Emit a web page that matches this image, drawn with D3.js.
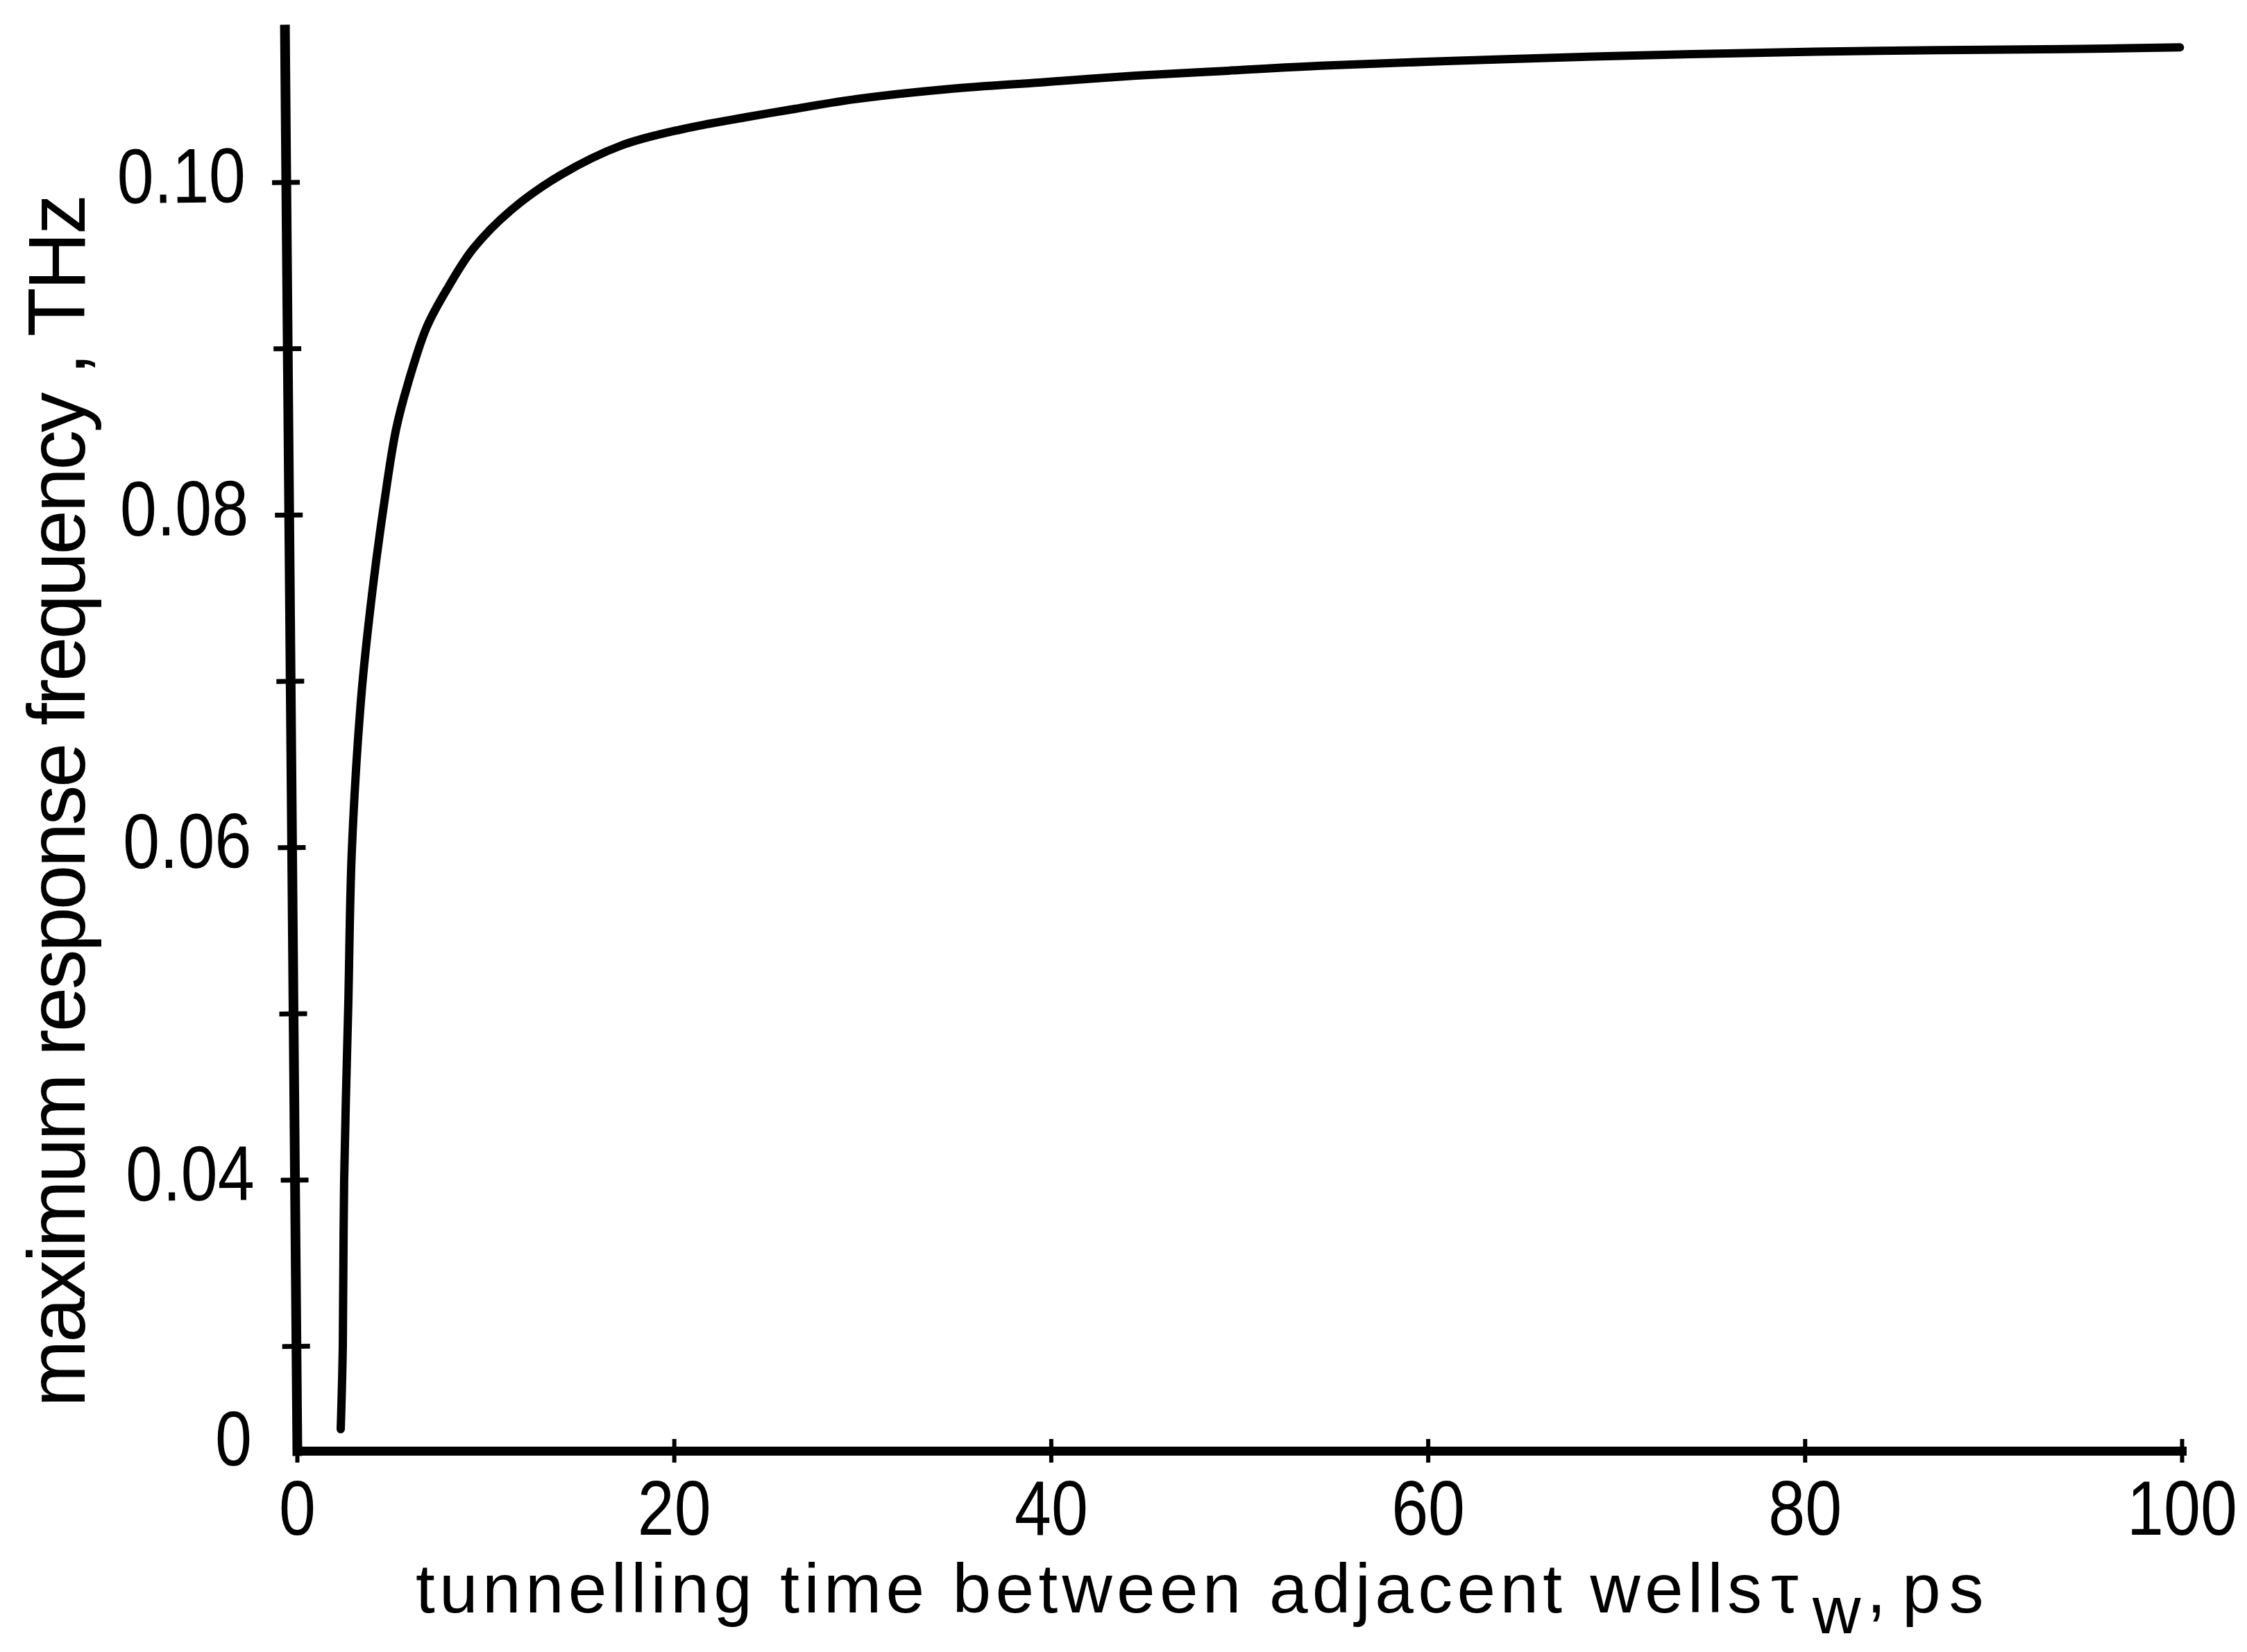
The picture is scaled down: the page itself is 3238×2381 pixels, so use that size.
<!DOCTYPE html>
<html>
<head>
<meta charset="utf-8">
<script src="https://cdn.jsdelivr.net/npm/d3@7"></script>
<style>
  body { margin: 0; background: #fff; }
  text { font-family: "Liberation Sans", Arial, sans-serif; fill: #000; }
</style>
</head>
<body>
<svg id="chart" width="3238" height="2381"></svg>
<script>
// tunnelling time between adjacent wells, ps
var tauW = [2.32, 2.43, 2.50, 2.72, 2.91, 3.42, 4.01, 4.60, 5.25, 5.89, 6.89, 8.03,
  9.35, 11.34, 13.95, 17.2, 20.5, 23.8, 26.4, 29.7, 34.6, 39.5, 44.5, 49.4, 54.3,
  64.2, 74.0, 83.9, 93.8, 99.9];
// maximum response frequency, THz
var fMax = [0.0250, 0.0300, 0.0399, 0.0505, 0.0598, 0.0692, 0.0755, 0.0805, 0.0851, 0.0879,
  0.0913, 0.0937, 0.0960, 0.0983, 0.1004, 0.1022, 0.1032, 0.1039, 0.1044, 0.1050, 0.1056,
  0.1060, 0.1064, 0.1067, 0.1070, 0.1074, 0.1077, 0.1079, 0.1080, 0.1081];

var xTicks = [0, 20, 40, 60, 80, 100];
var yMajorTicks = [0.04, 0.06, 0.08, 0.10];
var yMinorTicks = [0.03, 0.05, 0.07, 0.09];
// the original axis is drawn with its corner labelled "0"
var yFloor = 0.0237;
var yTop = 0.1092;

var svg = d3.select("#chart");

var x = d3.scaleLinear().domain([0, 100]).range([428, 3144]);
var y = d3.scaleLinear().domain([yFloor, yTop]).range([2091, 42]);

// x axis
var xAxis = d3.axisBottom(x).tickValues(xTicks).tickSize(17).tickSizeOuter(0)
  .tickFormat(d3.format("d"));
var gx = svg.append("g")
  .attr("transform", "translate(0," + y(yFloor) + ")")
  .call(xAxis);
gx.select(".domain").attr("stroke", "#000").attr("stroke-width", 13).attr("stroke-linecap", "square");
gx.selectAll(".tick line").attr("y1", -17).attr("y2", 17).attr("stroke-width", 6);
gx.selectAll(".tick text")
  .attr("y", 41)
  .attr("font-size", 112)
  .attr("font-family", null)
  .attr("transform", "scale(0.85,1)");

// y axis (the original is slightly tilted)
var gyWrap = svg.append("g")
  .attr("transform", "rotate(-0.5 " + x(0) + " " + y(yFloor) + ")");

var gy = gyWrap.append("g")
  .attr("transform", "translate(" + x(0) + ",0)")
  .call(d3.axisLeft(y).tickValues(yMajorTicks).tickSize(20).tickSizeOuter(0)
    .tickFormat(d3.format(".2f")));
gy.select(".domain").attr("stroke", "#000").attr("stroke-width", 14).attr("stroke-linecap", "square");
gy.selectAll(".tick line").attr("x1", -20).attr("x2", 20).attr("stroke-width", 7);
gy.selectAll(".tick text")
  .attr("x", -58 / 0.85)
  .attr("y", -8)
  .attr("font-size", 112)
  .attr("font-family", null)
  .attr("transform", "scale(0.85,1)");

var gyMinor = gyWrap.append("g")
  .attr("transform", "translate(" + x(0) + ",0)")
  .call(d3.axisLeft(y).tickValues(yMinorTicks).tickSize(20).tickFormat(""));
gyMinor.select(".domain").remove();
gyMinor.selectAll(".tick line").attr("x1", -20).attr("x2", 20).attr("stroke-width", 7);

svg.append("text")
  .attr("transform", "translate(" + (x(0) - 65) + "," + (y(yFloor) - 19) + ") scale(0.85,1)")
  .attr("dy", "0.36em")
  .attr("text-anchor", "end")
  .attr("font-size", 112)
  .text("0");

// curve
var line = d3.line()
  .x(function (d, i) { return x(tauW[i]); })
  .y(function (d) { return y(d); })
  .curve(d3.curveCatmullRom.alpha(0.5));

svg.append("path")
  .datum(fMax)
  .attr("d", line)
  .attr("fill", "none")
  .attr("stroke", "#000")
  .attr("stroke-width", 12)
  .attr("stroke-linecap", "round")
  .attr("stroke-linejoin", "round");

// axis titles
svg.append("text")
  .attr("x", 599)
  .attr("y", 2324)
  .attr("font-size", 100)
  .attr("textLength", 1940)
  .attr("lengthAdjust", "spacing")
  .text("tunnelling time between adjacent wells");

var tau = svg.append("text")
  .attr("y", 2324)
  .attr("font-size", 100);
tau.append("tspan").attr("x", 2552).text("τ");
tau.append("tspan").attr("x", 2612).attr("dy", 30).attr("font-size", 96).text("w");
tau.append("tspan").attr("x", 2690).attr("dy", -30).text(",");
tau.append("tspan").attr("x", 2741).attr("letter-spacing", 12).text("ps");

svg.append("text")
  .attr("transform", "translate(122,1154) rotate(-90)")
  .attr("text-anchor", "middle")
  .attr("font-size", 116)
  .attr("textLength", 1748)
  .attr("lengthAdjust", "spacing")
  .text("maximum response frequency , THz");
</script>
</body>
</html>
